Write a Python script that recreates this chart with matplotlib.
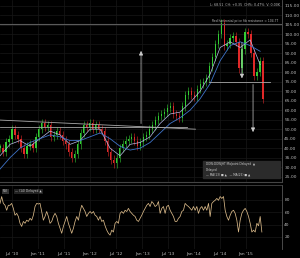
import matplotlib
matplotlib.use("Agg")
import matplotlib.pyplot as plt
import matplotlib.dates as mdates
import pandas as pd
from matplotlib.patches import Rectangle

# Price closes (every ~3 weeks)
closes = [40, 38, 43, 45, 50, 47, 45, 40, 37, 41, 42, 40, 46, 50, 53, 51, 52, 46,
          47, 49, 47, 44, 42, 38, 35, 37, 42, 48, 52, 51, 53, 50, 52, 50, 49, 44,
          38, 34, 32, 35, 40, 42, 44, 45, 46, 44, 41, 43, 46, 47, 50, 52, 55, 57,
          58, 59, 61, 62, 58, 57, 56, 62, 68, 70, 68, 67, 71, 74, 75, 77, 83, 88,
          95, 100, 106, 94, 95, 98, 99, 96, 82, 92, 101, 100, 90, 78, 80, 86, 66]

# Moving averages (coarse readings)
ma_fast = [36, 42, 44, 41, 45, 49, 47, 42, 44, 50, 50, 40, 36, 42, 43, 46, 53,
           58, 59, 64, 70, 79, 93, 96, 93, 97, 84]
ma_slow = [29, 35, 40, 43, 45, 47, 46, 44, 44, 46, 48, 45, 41, 39, 40, 43, 48,
           53, 56, 60, 66, 74, 86, 94, 96, 94, 91]

# RSI(14)
rsi = [74, 85, 74, 71, 63, 71, 71, 74, 66, 55, 58, 53, 42, 37, 45, 42, 47, 45, 50, 47,
       55, 69, 74, 73, 74, 61, 47, 53, 61, 53, 42, 45, 53, 58, 53, 42, 34, 26, 37, 45,
       53, 42, 34, 26, 34, 45, 53, 47, 61, 71, 66, 61, 53, 58, 61, 58, 61, 55, 53, 47,
       53, 45, 47, 38, 31, 26, 23, 31, 28, 42, 45, 42, 58, 61, 58, 63, 61, 66, 61, 58,
       55, 53, 47, 45, 50, 55, 61, 66, 71, 74, 69, 77, 74, 69, 71, 77, 58, 66, 69, 58,
       69, 71, 63, 58, 53, 45, 45, 50, 53, 61, 63, 74, 71, 69, 66, 63, 69, 63, 69, 58,
       66, 69, 63, 69, 63, 74, 53, 74, 77, 79, 82, 79, 85, 82, 85, 63, 53, 47, 55, 61,
       63, 58, 47, 28, 47, 58, 63, 66, 61, 53, 42, 28, 31, 28, 42, 38, 53, 28]

price_levels = list(range(25, 120, 5))
rsi_levels = [20, 40, 60, 80]
tick_dates = ["2010-07-01", "2011-01-01", "2011-07-01", "2012-01-01", "2012-07-01",
              "2013-01-01", "2013-07-01", "2014-01-01", "2014-07-01", "2015-01-01"]

price_dates = pd.date_range("2010-04-08", periods=len(closes), freq="21D")
ma_dates = pd.date_range("2010-04-08", "2015-04-10", periods=len(ma_fast))
rsi_dates = pd.date_range("2010-04-08", "2015-04-22", periods=len(rsi))

BG = "black"
GRID = "#171717"
TXT = "#bbbbbb"
x0, x1 = pd.Timestamp("2010-04-08"), pd.Timestamp("2015-09-07")

fig = plt.figure(figsize=(3.0, 2.58), dpi=100, facecolor=BG)
ax = fig.add_axes([0, 1 - 182 / 258, 281.5 / 300, 182 / 258], facecolor=BG)
ax2 = fig.add_axes([0, 1 - 249 / 258, 281.5 / 300, 64 / 258], facecolor=BG)

for a in (ax, ax2):
    a.set_xlim(x0, x1)
    a.yaxis.tick_right()
    a.tick_params(length=0, labelsize=3.2, colors=TXT, pad=2)
    for s in a.spines.values():
        s.set_visible(False)
    a.spines["right"].set_visible(True)
    a.spines["right"].set_color("#555555")
    a.spines["right"].set_linewidth(0.6)
    a.set_xticks(pd.to_datetime(tick_dates))
    a.grid(True, color=GRID, lw=0.5)
    a.set_axisbelow(True)

ax.set_ylim(22.2, 118)
ax.set_yticks(price_levels)
ax.set_yticklabels([f"{v:.2f}" for v in price_levels])
ax.tick_params(axis="x", labelbottom=False)
ax.spines["bottom"].set_visible(True)
ax.spines["bottom"].set_color("#444444")

ax2.set_ylim(0.7, 103.6)
ax2.set_yticks(rsi_levels)
ax2.xaxis.set_major_formatter(mdates.DateFormatter("%b '%y"))
ax2.spines["top"].set_visible(True)
ax2.spines["top"].set_color("#444444")
ax2.spines["top"].set_linewidth(0.6)

# candles: body from previous close to this close
opens = [closes[0]] + closes[:-1]
for d, o, c in zip(price_dates, opens, closes):
    col = "#33cc33" if c >= o else "#e02828"
    lo, hi = min(o, c), max(o, c)
    ax.vlines(d, lo - 2.2, hi + 2.2, color=col, lw=0.4)
    ax.bar(d, max(hi - lo, 1.0), bottom=lo, width=9, color=col, lw=0)

ax.plot(ma_dates, ma_fast, color="#b7b9e6", lw=0.5)
ax.plot(ma_dates, ma_slow, color="#3f74c9", lw=0.6)

# drawn lines
line_col = "#a8a8a8"
ax.axhline(105.2, color="#5a5a5a", lw=0.8)
ax.plot(pd.to_datetime(["2010-04-08", "2014-01-10"]), [54.8, 50.0], color=line_col, lw=0.6)
ax.plot(pd.to_datetime(["2010-04-08", "2013-11-10"]), [51.4, 51.4], color=line_col, lw=0.6)
ax.plot(pd.to_datetime(["2014-04-15", "2015-06-20"]), [75, 75], color=line_col, lw=0.6)
arrow = dict(arrowstyle="-|>,head_length=0.25,head_width=0.12", color="#cccccc", lw=0.5)
ax.annotate("", xy=(pd.Timestamp("2012-12-24"), 92.7), xytext=(pd.Timestamp("2012-12-24"), 51.5), arrowprops=arrow)
ax.annotate("", xy=(pd.Timestamp("2014-12-03"), 75.3), xytext=(pd.Timestamp("2014-12-03"), 97), arrowprops=arrow)
ax.annotate("", xy=(pd.Timestamp("2015-02-19"), 47), xytext=(pd.Timestamp("2015-02-19"), 75), arrowprops=arrow)

ax.text(0.995, 0.985, "L: 68.51  CH: +0.35  CH%: 0.47%  V: 0.00K", transform=ax.transAxes,
        ha="right", va="top", fontsize=2.3, color=TXT)
ax.text(0.99, 0.875, "Red horizontal price fib resistance = 104.77", transform=ax.transAxes,
        ha="right", va="bottom", fontsize=2.2, color=TXT)

# legend box
ax.add_patch(Rectangle((203 / 281.5, 1 - 178 / 182), 77 / 281.5, 17 / 182,
                       transform=ax.transAxes, color="#2b2b2b", zorder=5))
lx = 206 / 281.5
ax.text(lx, 1 - 164 / 182, "DOW:DOWJHT Midpoint Delayed  \u25b2", transform=ax.transAxes,
        fontsize=2.1, color="#cccccc", va="center", zorder=6)
ax.text(lx, 1 - 169.5 / 182, "Delayed", transform=ax.transAxes,
        fontsize=2.1, color="#cccccc", va="center", zorder=6)
ax.text(lx, 1 - 175 / 182, "\u2014 MA(13) \u25a0 \u25b2   \u2014 MA(25) \u25a0 \u25b2",
        transform=ax.transAxes, fontsize=2.1, color="#cccccc", va="center", zorder=6)

ax2.plot(rsi_dates, rsi, color="#d8b888", lw=0.55)
ax2.text(3 / 281.5, 0.93, "RSI", transform=ax2.transAxes, fontsize=2.2, color="#cccccc",
         va="top", bbox=dict(boxstyle="square,pad=0.3", fc="#333333", ec="none"))
ax2.text(15 / 281.5, 0.93, "\u2014 (14) Delayed \u25b2", transform=ax2.transAxes,
         fontsize=2.2, color="#cccccc", va="top",
         bbox=dict(boxstyle="square,pad=0.3", fc="#222222", ec="none"))

fig.savefig("out.png", dpi=100, facecolor=BG)
